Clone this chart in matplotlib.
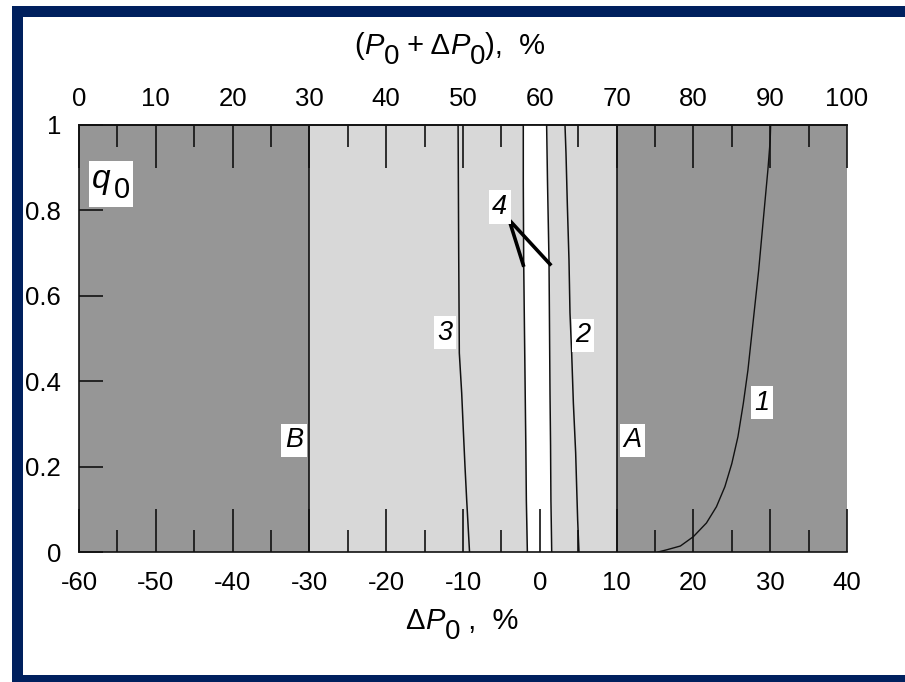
import matplotlib
matplotlib.use('Agg')
import matplotlib.pyplot as plt
from matplotlib.transforms import IdentityTransform
from matplotlib.patches import Rectangle

plt.rcParams['font.family'] = ['Liberation Sans', 'DejaVu Sans']
plt.rcParams['axes.unicode_minus'] = False

# ---------------- data ----------------
zone_edges = [-60, -30, 10, 40]           # dP0 boundaries of the zones
p0_base = 60                              # P0 (top axis = P0 + dP0)
bottom_ticks = [-60, -50, -40, -30, -20, -10, 0, 10, 20, 30, 40]
top_ticks = [0, 10, 20, 30, 40, 50, 60, 70, 80, 90, 100]
y_ticks = [0, 0.2, 0.4, 0.6, 0.8, 1.0]
y_ticklabels = ['0', '0.2', '0.4', '0.6', '0.8', '1']

# curve 1
c1_x = [15.4, 16.5, 18.3, 20.0, 21.7, 23.0, 24.1, 25.0, 25.8, 26.5, 27.1, 27.8, 28.5, 29.1, 29.7, 30.0, 30.06]
c1_q = [0.0, 0.005, 0.014, 0.036, 0.068, 0.106, 0.153, 0.207, 0.27, 0.348, 0.426, 0.543, 0.66, 0.778, 0.895, 0.965, 1.0]
# curve 2
c2_x = [3.28, 3.41, 3.58, 3.80, 3.93, 4.15, 4.37, 4.67, 4.80, 4.93, 5.1]
c2_q = [1.0, 0.934, 0.817, 0.684, 0.56, 0.466, 0.349, 0.232, 0.152, 0.075, 0.0]
# curve 3
c3_x = [-10.64, -10.56, -10.48, -10.17, -9.96, -9.74, -9.52, -9.15]
c3_q = [1.0, 0.70, 0.466, 0.372, 0.286, 0.2, 0.122, 0.0]
# white band borders
band_q = [0.0, 0.12, 0.25, 0.37, 0.68, 0.87, 1.0]
band_left = [-1.62, -1.75, -1.82, -1.9, -2.1, -2.15, -2.15]
band_right = [1.55, 1.45, 1.4, 1.33, 1.2, 1.0, 0.89]
# curve 4
c4_x = [-2.15, -4.0, 1.33]
c4_q = [0.672, 0.778, 0.674]

# labels
lab_text = ['B', 'A', '3', '2', '1', '4']
lab_x = [-32.0, 12.1, -12.3, 5.6, 28.9, -5.2]
lab_q = [0.262, 0.262, 0.513, 0.508, 0.349, 0.808]
q0_x, q0_q = -55.8, 0.864

# ---------------- figure ----------------
W, H, DPI = 905, 682, 100
DARK = '#969696'
LIGHT = '#d8d8d8'
NAVY = '#00205e'
INK = '#111111'
TS = 18.5   # tick label size

fig = plt.figure(figsize=(W / DPI, H / DPI), dpi=DPI)
fig.patch.set_facecolor('white')
L, R, T, B = 79, 847, 125, 552
ax = fig.add_axes([L / W, 1 - B / H, (R - L) / W, (B - T) / H])
ax.set_xlim(zone_edges[0], zone_edges[-1])
ax.set_ylim(0, 1)

# zones
ax.axvspan(zone_edges[0], zone_edges[1], color=DARK, lw=0, zorder=0)
ax.axvspan(zone_edges[1], zone_edges[2], color=LIGHT, lw=0, zorder=0)
ax.axvspan(zone_edges[2], zone_edges[3], color=DARK, lw=0, zorder=0)
ax.fill_betweenx(band_q, band_left, band_right, color='white', lw=0, zorder=1)
for e in zone_edges[1:3]:
    ax.axvline(e, color=INK, lw=1.2, zorder=2)
ax.plot(band_left, band_q, color=INK, lw=1.1, zorder=2)
ax.plot(band_right, band_q, color=INK, lw=1.1, zorder=2)

ax.plot(c1_x, c1_q, color=INK, lw=1.0, zorder=3)
ax.plot(c2_x, c2_q, color=INK, lw=1.1, zorder=3)
ax.plot(c3_x, c3_q, color=INK, lw=1.1, zorder=3)
ax.plot(c4_x, c4_q, color='black', lw=2.6, zorder=3, solid_joinstyle='miter')

for s, x, q in zip(lab_text, lab_x, lab_q):
    ax.text(x, q, s, fontsize=19.5, fontstyle='italic', ha='center', va='center',
            zorder=5, bbox=dict(facecolor='white', edgecolor='none', pad=2.5))

# spines / ticks
for sp in ['left', 'bottom', 'top']:
    ax.spines[sp].set_color(INK)
    ax.spines[sp].set_linewidth(1.2)
ax.spines['right'].set_visible(False)

ax.set_xticks(bottom_ticks)
ax.set_xticks([v + 5 for v in bottom_ticks[:-1]], minor=True)
ax.tick_params(axis='x', which='major', direction='in', length=31, width=1.2, color=INK,
               top=False, bottom=True, labelsize=TS, pad=14)
ax.tick_params(axis='x', which='minor', direction='in', length=16, width=1.2, color=INK,
               top=False, bottom=True)
ax.set_yticks(y_ticks)
ax.set_yticklabels(y_ticklabels)
ax.tick_params(axis='y', which='major', direction='in', length=17, width=1.2, color=INK,
               left=True, right=False, labelsize=TS, pad=13)

sec = ax.secondary_xaxis('top', functions=(lambda v: v + p0_base, lambda v: v - p0_base))
sec.set_xticks(top_ticks)
sec.set_xticks([v + 5 for v in top_ticks[:-1]], minor=True)
sec.tick_params(axis='x', which='major', direction='in', length=31, width=1.2, color=INK,
                labelsize=TS, pad=10)
sec.tick_params(axis='x', which='minor', direction='in', length=16, width=1.2, color=INK)
sec.spines['top'].set_color(INK)
sec.spines['top'].set_linewidth(1.2)

# ---------------- rich text helper ----------------
renderer = fig.canvas.get_renderer()


def rich(pieces, xc, yb, box=False, pad=4):
    """pieces: (text, italic, drop_px, size); xc center x (px), yb baseline (px from top)."""
    arts = []
    cur = 0.0
    for s, it, dy, sz in pieces:
        t = fig.text(0, 0, s, fontsize=sz, fontstyle='italic' if it else 'normal',
                     transform=IdentityTransform(), ha='left', va='baseline', zorder=7)
        w = t.get_window_extent(renderer).width
        arts.append((t, cur, dy))
        cur += w
    x0 = xc - cur / 2
    ydisp = H - yb
    for t, off, dy in arts:
        t.set_position((x0 + off, ydisp - dy))
    if box:
        exts = [t.get_window_extent(renderer) for t, _, _ in arts]
        x1 = min(e.x0 for e in exts) - pad
        x2 = max(e.x1 for e in exts) + pad
        y1 = min(e.y0 for e in exts) - pad
        y2 = max(e.y1 for e in exts) + pad
        fig.add_artist(Rectangle((x1, y1), x2 - x1, y2 - y1, transform=IdentityTransform(),
                                 facecolor='white', edgecolor='none', zorder=6))


S = 21
rich([('(', False, 0, S), ('P', True, 0, S), ('0', False, 10, S * 0.95),
      (' + \u0394', False, 0, S), ('P', True, 0, S), ('0', False, 10, S * 0.95),
      ('),  %', False, 0, S)], 450, 54)
rich([('\u0394', False, 0, S), ('P', True, 0, S), ('0', False, 10, S * 0.95),
      (' ,  %', False, 0, S)], 462, 629)

qx, qy = ax.transData.transform((q0_x, q0_q))
rich([('q', True, 0, 24), (' ', False, 0, 8), ('0', False, 10, 21)], qx, H - qy + 5, box=True, pad=3)

# ---------------- navy frame ----------------
for (x, y, w, h) in [(12, H - 17, W - 12, 11), (12, 0, 11, H - 6), (12, 0, W - 12, 7)]:
    fig.add_artist(Rectangle((x, y), w, h, transform=IdentityTransform(),
                             facecolor=NAVY, edgecolor='none', zorder=10))

fig.savefig('out.png', dpi=DPI)
